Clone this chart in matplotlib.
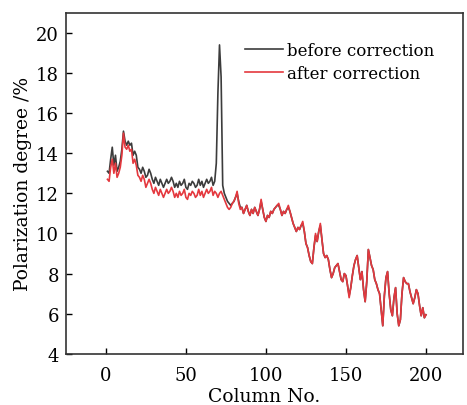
import numpy as np
import matplotlib
matplotlib.use("Agg")
import matplotlib.pyplot as plt

plt.rcParams['font.family'] = ['DejaVu Serif']

# column numbers 1..200
columns = list(range(1, 201))

before = [
    13.1, 13.0, 13.7, 14.3, 13.4, 13.9, 13.1, 13.3, 13.6, 14.2,
    15.1, 14.6, 14.4, 14.6, 14.4, 14.5, 13.9, 14.1, 13.9, 13.3,
    13.2, 13.0, 13.3, 13.1, 12.8, 12.9, 13.2, 13.0, 12.7, 12.5,
    12.8, 12.6, 12.4, 12.7, 12.5, 12.3, 12.5, 12.7, 12.5, 12.6,
    12.8, 12.6, 12.3, 12.5, 12.3, 12.6, 12.4, 12.5, 12.7, 12.3,
    12.2, 12.5, 12.4, 12.6, 12.5, 12.3, 12.4, 12.7, 12.4, 12.6,
    12.3, 12.5, 12.7, 12.5, 12.6, 12.8, 12.4, 12.6, 13.5, 17.0,
    19.4, 17.8, 12.4, 12.0, 11.8, 11.6, 11.5, 11.4, 11.5, 11.6,
    11.8, 12.0, 11.6, 11.3, 11.3, 11.0, 11.2, 11.4, 11.1, 10.9,
    11.2, 11.0, 11.3, 11.1, 10.9, 11.2, 11.6, 11.2, 10.8, 10.6,
    10.9, 10.8, 11.1, 11.0, 11.2, 11.3, 11.4, 11.4, 11.2, 10.9,
    11.1, 11.0, 11.2, 11.3, 11.1, 10.8, 10.5, 10.3, 10.1, 10.3,
    10.2, 10.4, 10.5, 10.1, 9.5, 9.3, 8.9, 8.6, 8.5, 9.3,
    9.9, 9.6, 10.1, 10.4, 9.7, 9.0, 8.8, 8.9, 8.7, 8.2,
    7.8, 8.0, 8.3, 8.4, 8.5, 8.1, 7.7, 7.6, 8.0, 7.9,
    7.4, 6.9, 7.3, 7.9, 8.4, 8.7, 8.9, 8.3, 7.7, 8.1,
    7.2, 6.6, 7.6, 9.2, 8.8, 8.4, 8.2, 7.7, 7.5, 7.2,
    7.0, 6.2, 5.4, 6.9, 7.8, 8.1, 7.0, 6.2, 5.9, 6.8,
    7.3, 6.0, 5.4, 5.7, 7.0, 7.8, 7.6, 7.5, 7.5, 7.1,
    6.8, 6.5, 6.8, 7.2, 7.0, 6.4, 5.9, 6.3, 5.8, 5.95,
]

after = [
    12.7, 12.6, 13.3, 13.7, 13.0, 13.5, 12.8, 13.0, 13.3, 13.9,
    15.0, 14.3, 14.2, 14.4, 14.1, 14.2, 13.5, 13.7, 13.4, 12.9,
    12.8, 12.6, 12.9, 12.7, 12.3, 12.5, 12.7, 12.5, 12.2, 12.0,
    12.3, 12.1, 11.9, 12.2, 12.0, 11.8, 12.0, 12.2, 12.0, 12.1,
    12.3, 12.1, 11.8, 12.0, 11.8, 12.1, 11.9, 12.0, 12.2, 11.8,
    11.7, 12.0, 11.9, 12.1, 12.0, 11.8, 11.9, 12.2, 11.9, 12.1,
    11.8, 12.0, 12.2, 12.0, 12.1, 12.3, 11.9, 12.1, 12.0, 11.8,
    12.0, 12.1, 11.9, 11.7, 11.5, 11.3, 11.2, 11.3, 11.5, 11.6,
    11.8, 12.1, 11.5, 11.2, 11.3, 11.0, 11.2, 11.4, 11.1, 10.9,
    11.2, 11.0, 11.3, 11.1, 10.9, 11.2, 11.7, 11.2, 10.8, 10.6,
    10.9, 10.8, 11.1, 11.0, 11.2, 11.3, 11.4, 11.5, 11.2, 10.9,
    11.1, 11.0, 11.2, 11.4, 11.1, 10.8, 10.5, 10.3, 10.1, 10.3,
    10.2, 10.4, 10.6, 10.1, 9.5, 9.3, 8.9, 8.6, 8.5, 9.3,
    10.0, 9.6, 10.1, 10.5, 9.7, 9.0, 8.8, 8.9, 8.7, 8.2,
    7.8, 8.0, 8.3, 8.4, 8.5, 8.1, 7.7, 7.6, 8.0, 7.9,
    7.4, 6.8, 7.3, 7.9, 8.4, 8.7, 8.9, 8.3, 7.7, 8.1,
    7.2, 6.6, 7.6, 9.2, 8.8, 8.4, 8.2, 7.7, 7.5, 7.2,
    7.0, 6.2, 5.4, 6.9, 7.8, 8.1, 7.0, 6.2, 5.9, 6.8,
    7.3, 6.0, 5.4, 5.7, 7.0, 7.8, 7.6, 7.5, 7.5, 7.1,
    6.8, 6.5, 6.8, 7.2, 7.0, 6.4, 5.9, 6.3, 5.8, 5.95,
]

xticks = [0, 50, 100, 150, 200]
yticks = [4, 6, 8, 10, 12, 14, 16, 18, 20]

fig = plt.figure(figsize=(4.67, 4.06), dpi=100)
ax = fig.add_axes([0.141, 0.126, 0.850, 0.840])

ax.plot(columns, before, color='#3c3c3c', lw=1.2, label='before correction')
ax.plot(columns, after, color='#e4383e', lw=1.2, label='after correction')

ax.set_xlim(-25, 223)
ax.set_ylim(4, 21)
ax.set_xticks(xticks)
ax.set_yticks(yticks)
ax.tick_params(direction='in', length=4.5, width=1, labelsize=13, pad=5,
               top=False, right=False)
ax.tick_params(axis='x', pad=9)
for s in ax.spines.values():
    s.set_linewidth(1.2)
    s.set_color('#333333')

ax.set_xlabel('Column No.', fontsize=13.5, labelpad=2)
ax.set_ylabel('Polarization degree /%', fontsize=13.5, labelpad=3)

ax.legend(loc='upper right', bbox_to_anchor=(0.965, 0.958), frameon=False,
          fontsize=12, handlelength=2.3, handletextpad=0.2, labelspacing=0.35)

fig.savefig('out.png', dpi=100)
